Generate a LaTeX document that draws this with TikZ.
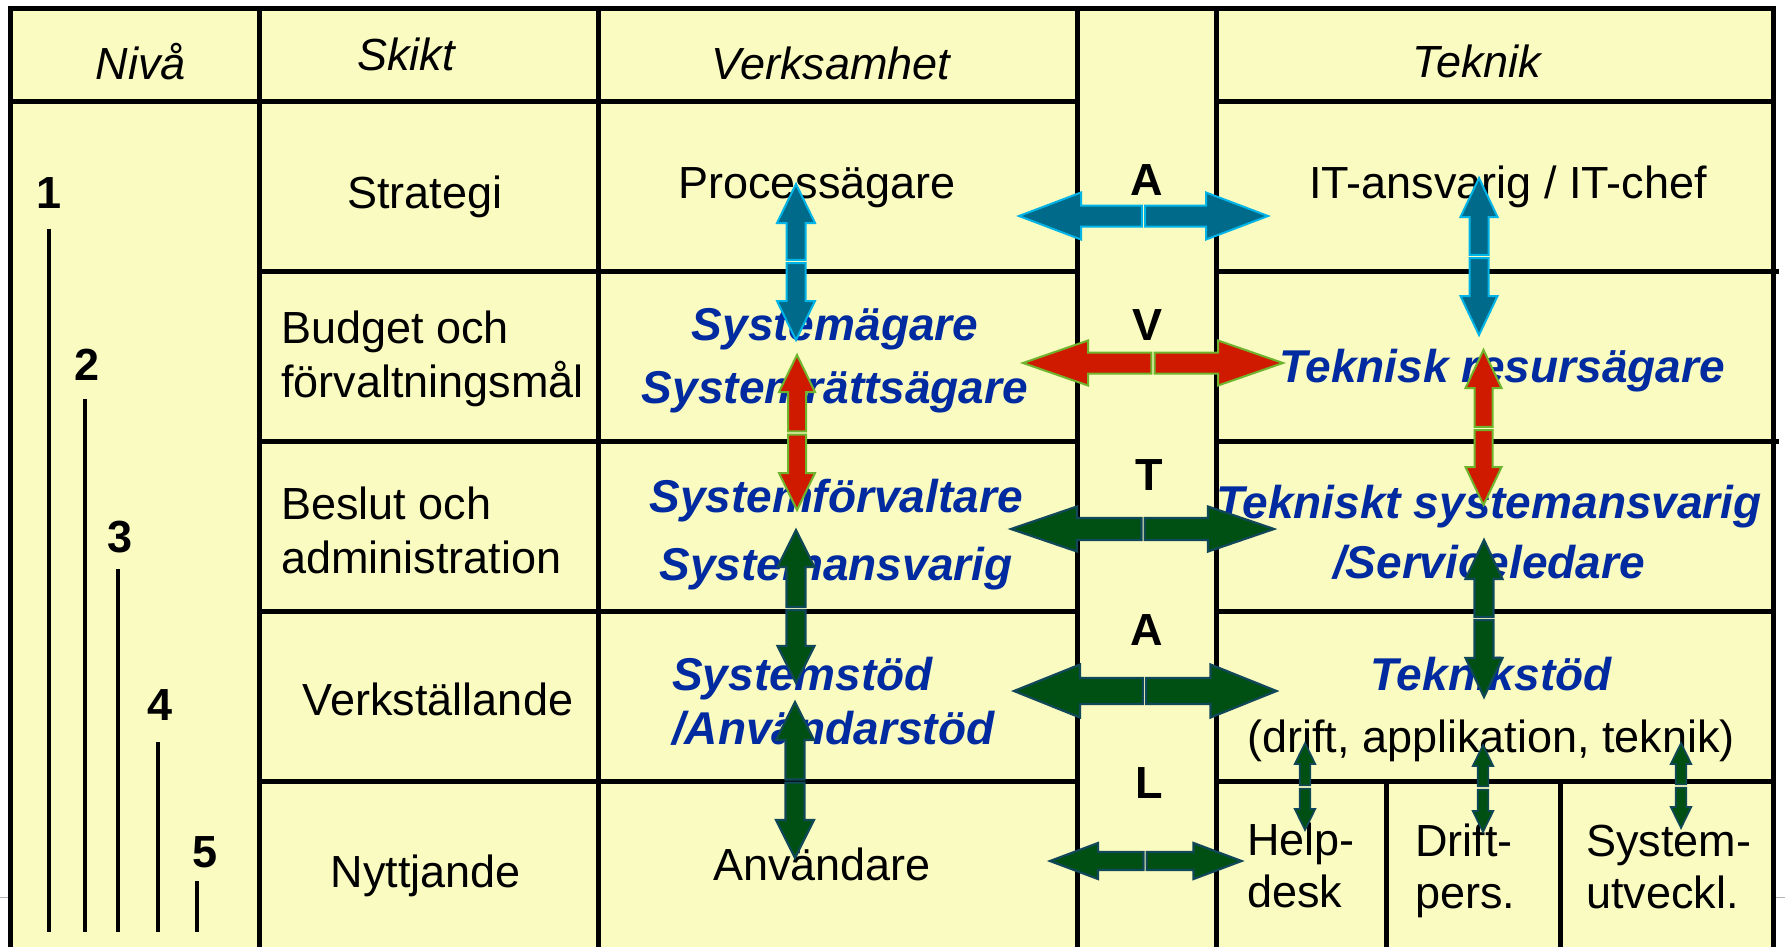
\documentclass[tikz,border=0pt]{standalone}
\usepackage{fontspec}
\setmainfont{Liberation Sans}
\usepackage{tikz}
\usetikzlibrary{calc}
\definecolor{tabyellow}{RGB}{249,251,192}
\definecolor{roleblue}{RGB}{0,42,160}
\definecolor{arrteal}{RGB}{0,106,138}
\definecolor{arrcyan}{RGB}{0,180,232}
\definecolor{arrred}{RGB}{208,26,0}
\definecolor{arrlime}{RGB}{110,180,44}
\definecolor{arrgreen}{RGB}{0,80,20}
\definecolor{arrslate}{RGB}{16,72,90}

\newcommand{\cellfont}{\fontsize{45}{54}\selectfont}
\newcommand{\rolefont}{\fontsize{46}{54}\selectfont}

% one half of a block arrow: [style]{tail}{tip}{shaft half width}{head half width}{head length}
\newcommand{\halfarrow}[6][]{%
  \coordinate (hb) at ($(#3)!#6!(#2)$);
  \filldraw[#1] ($(#2)!#4!90:(#3)$) -- ($(hb)!#4!90:(#3)$) -- ($(hb)!#5!90:(#3)$) -- (#3)
    -- ($(hb)!#5!-90:(#3)$) -- ($(hb)!#4!-90:(#3)$) -- ($(#2)!#4!-90:(#3)$) -- cycle;}
% two halves back to back: [style]{tip a}{middle}{tip b}{shaft}{head}{head length}
\newcommand{\twoway}[7][]{%
  \coordinate (ta) at ($(#3)!1.6pt!(#2)$);
  \coordinate (tb) at ($(#3)!1.6pt!(#4)$);
  \halfarrow[#1]{ta}{#2}{#5}{#6}{#7}%
  \halfarrow[#1]{tb}{#4}{#5}{#6}{#7}}

\begin{document}
\begin{tikzpicture}[
  x=1pt, y=-1pt,
  font=\cellfont,
  tabline/.style={line width=5pt},
  lvlline/.style={line width=4.6pt},
  txt/.style={anchor=base, inner sep=0pt},
  colhead/.style={txt, font=\cellfont\itshape},
  lvl/.style={txt, font=\cellfont\bfseries},
  avtal/.style={txt, font=\cellfont\bfseries},
  role/.style={txt, font=\rolefont\bfseries\itshape, text=roleblue, align=center},
  tealarr/.style={fill=arrteal, draw=arrcyan, line width=2pt},
  redarr/.style={fill=arrred, draw=arrlime, line width=2pt},
  greenarr/.style={fill=arrgreen, draw=arrslate, line width=2.2pt}
]
\useasboundingbox (0,0) rectangle (1785,946);
\clip (0,0) rectangle (1785,946);
\fill[white] (0,0) rectangle (1785,946);
\draw[black!30, line width=1pt] (0,897) -- (1785,897);

% table body
\fill[tabyellow] (10.5,8) rectangle (1773,950);
\draw[tabline] (10.5,950) -- (10.5,8) -- (1773,8) -- (1773,950);
\draw[tabline] (259,8) -- (259,950);
\draw[tabline] (598,8) -- (598,950);
\draw[tabline] (1077,8) -- (1077,950);
\draw[tabline] (1216,8) -- (1216,950);
\draw[tabline] (10.5,101) -- (1077,101);
\draw[tabline] (1216,101) -- (1773,101);
% rows
\draw[tabline] (259,271) -- (1077,271);
\draw[tabline] (1216,271) -- (1779,271);
\draw[tabline] (259,441) -- (1077,441);
\draw[tabline] (1216,441) -- (1779,441);
\draw[tabline] (259,611) -- (1077,611);
\draw[tabline] (1216,611) -- (1773,611);
\draw[tabline] (259,781) -- (1077,781);
\draw[tabline] (1216,781) -- (1773,781);
\draw[tabline] (1386,781) -- (1386,950);
\draw[tabline] (1560,781) -- (1560,950);

% column heads
\node[colhead] (nivahd) at (141,79) {Nivå};
\node[colhead] (skikthd) at (406,70) {Skikt};
\node[colhead] (verkhd) at (831,79) {Verksamhet};
\node[colhead] (teknhd) at (1477,77) {Teknik};

% levels
\node[lvl] (n1) at (48.6,208) {1};
\node[lvl] (n2) at (87,380) {2};
\node[lvl] (n3) at (120.5,552) {3};
\node[lvl] (n4) at (160,720) {4};
\node[lvl] (n5) at (205.5,867) {5};
\draw[lvlline] (49,229) -- (49,932);
\draw[lvlline] (85,399) -- (85,932);
\draw[lvlline] (118,569) -- (118,932);
\draw[lvlline] (158,742) -- (158,932);
\draw[lvlline] (197,881) -- (197,932);

% layers (two-line nodes sit on their last line)
\node[txt] (strategi) at (425,208) {Strategi};
\node[txt, anchor=base west, align=left] (budget) at (281,397) {Budget och\\förvaltningsmål};
\node[txt, anchor=base west, align=left] (beslut) at (281,573) {Beslut och\\administration};
\node[txt] (verkst) at (438,715) {Verkställande};
\node[txt] (nytt) at (425.6,887) {Nyttjande};

% business side
\node[txt] (proc) at (817,198) {Processägare};
\node[role] (sysag) at (835,403) {Systemägare\\[9pt]Systemrättsägare};
\node[role] (sysforv) at (836,580) {Systemförvaltare\\[14pt]Systemansvarig};
\node[role, anchor=base west, align=left] (sysstod) at (672,744) {Systemstöd\\/Användarstöd};
\node[txt] (anv) at (822,880) {Användare};

% AVTAL
\node[avtal] (avA) at (1147,195) {A};
\node[avtal] (avV) at (1147,340) {V};
\node[avtal] (avT) at (1149,490) {T};
\node[avtal] (avA2) at (1147,645) {A};
\node[avtal] (avL) at (1149,798) {L};

% technical side
\node[txt] (itchef) at (1508,198) {IT-ansvarig / IT-chef};
\node[role] (tresurs) at (1502,382) {Teknisk resursägare};
\node[role] (tsys) at (1489,578) {Tekniskt systemansvarig\\[6pt]/Serviceledare};
\node[role] (tstod) at (1491,752)
  {Teknikstöd\\[8pt]{\normalfont\cellfont\color{black}(drift, applikation, teknik)}};
\node[txt, anchor=base west, align=left] (help) at (1247,907) {Help-\\[-2pt]desk};
\node[txt, anchor=base west, align=left] (driftp) at (1415,908) {Drift-\\[-2pt]pers.};
\node[txt, anchor=base west, align=left] (sysutv) at (1586,908) {System-\\[-2pt]utveckl.};

% arrow end points
\coordinate (h1w) at (1019,216);   \coordinate (h1c) at (1143.5,216); \coordinate (h1e) at (1268,216);
\coordinate (h2w) at (1023,363);   \coordinate (h2c) at (1153,363);   \coordinate (h2e) at (1283,363);
\coordinate (h3w) at (1011,529);   \coordinate (h3c) at (1143,529);   \coordinate (h3e) at (1274,529);
\coordinate (h4w) at (1014,691);   \coordinate (h4c) at (1144.5,691); \coordinate (h4e) at (1276.5,691);
\coordinate (h5w) at (1050,861);   \coordinate (h5c) at (1145,861);   \coordinate (h5e) at (1241.5,861);
\coordinate (v1n) at (796,184);    \coordinate (v1c) at (796,261.5);  \coordinate (v1s) at (796,340);
\coordinate (v2n) at (797,355);    \coordinate (v2c) at (797,433);    \coordinate (v2s) at (797,510);
\coordinate (v3n) at (796,530);    \coordinate (v3c) at (796,608.5);  \coordinate (v3s) at (796,683);
\coordinate (v4n) at (795,702);    \coordinate (v4c) at (795,781);    \coordinate (v4s) at (795,858);
\coordinate (t1n) at (1479,178);   \coordinate (t1c) at (1479,256.5); \coordinate (t1s) at (1479,335);
\coordinate (t2n) at (1483.5,350); \coordinate (t2c) at (1483.5,428.5); \coordinate (t2s) at (1483.5,505);
\coordinate (t3n) at (1484,540);   \coordinate (t3c) at (1484,618.5); \coordinate (t3s) at (1484,697);
\coordinate (s1n) at (1305,743);   \coordinate (s1c) at (1305,787);   \coordinate (s1s) at (1305,830);
\coordinate (s2n) at (1483,745);   \coordinate (s2c) at (1483,788);   \coordinate (s2s) at (1483,832);
\coordinate (s3n) at (1681,743);   \coordinate (s3c) at (1681,786);   \coordinate (s3s) at (1681,828);

% block arrows
\twoway[tealarr]{h1w}{h1c}{h1e}{10.5pt}{23.5pt}{62pt}
\twoway[redarr]{h2w}{h2c}{h2e}{10.5pt}{22.5pt}{65pt}
\twoway[greenarr]{h3w}{h3c}{h3e}{11pt}{22.5pt}{66pt}
\twoway[greenarr]{h4w}{h4c}{h4e}{13pt}{26.5pt}{66pt}
\twoway[greenarr]{h5w}{h5c}{h5e}{9pt}{18pt}{48pt}
\twoway[tealarr]{v1n}{v1c}{v1s}{9.5pt}{19pt}{39pt}
\twoway[redarr]{v2n}{v2c}{v2s}{9pt}{18pt}{37pt}
\twoway[greenarr]{v3n}{v3c}{v3s}{9.5pt}{18.5pt}{37pt}
\twoway[greenarr]{v4n}{v4c}{v4s}{9.5pt}{19pt}{38pt}
\twoway[tealarr]{t1n}{t1c}{t1s}{9.5pt}{18.5pt}{39pt}
\twoway[redarr]{t2n}{t2c}{t2s}{9pt}{18pt}{38pt}
\twoway[greenarr]{t3n}{t3c}{t3s}{9.5pt}{18.5pt}{39pt}
\twoway[greenarr, line width=1.6pt]{s1n}{s1c}{s1s}{5.3pt}{10.3pt}{21pt}
\twoway[greenarr, line width=1.6pt]{s2n}{s2c}{s2s}{5.3pt}{10.3pt}{21pt}
\twoway[greenarr, line width=1.6pt]{s3n}{s3c}{s3s}{5.3pt}{10.3pt}{21pt}

\end{tikzpicture}
\end{document}
